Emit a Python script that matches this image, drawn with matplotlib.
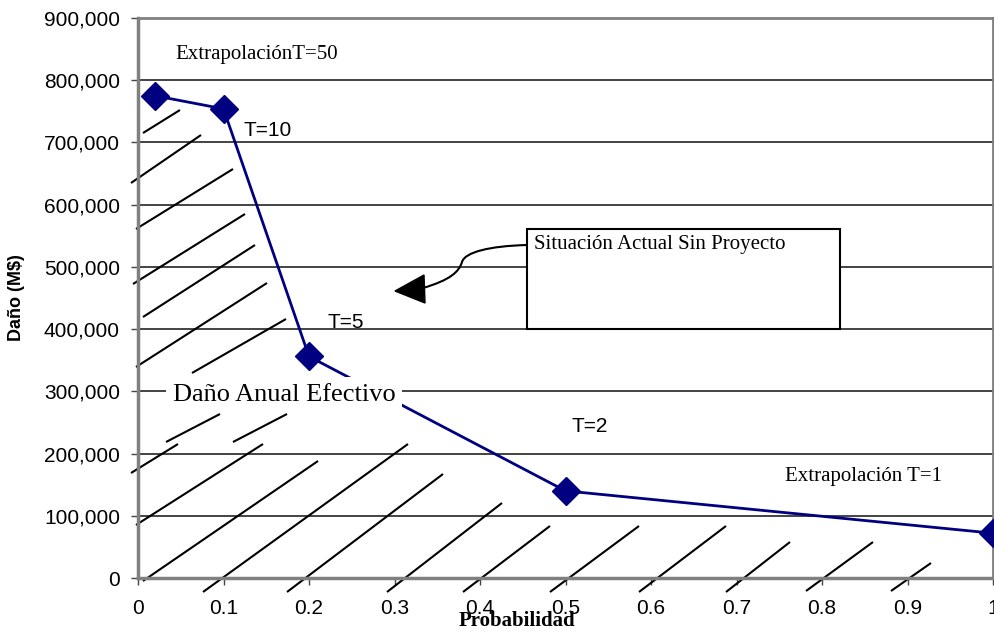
import matplotlib.pyplot as plt
from matplotlib.collections import LineCollection
from matplotlib.patches import Rectangle, PathPatch, Polygon
from matplotlib.path import Path

# Datos de la curva daño - probabilidad
probabilidad = [0.02, 0.1, 0.2, 0.5, 1.0]
dano = [775000, 754000, 356000, 140000, 72000]

x_ticks = [0, 0.1, 0.2, 0.3, 0.4, 0.5, 0.6, 0.7, 0.8, 0.9, 1.0]
x_labels = ["0", "0.1", "0.2", "0.3", "0.4", "0.5", "0.6", "0.7", "0.8", "0.9", "1"]
y_ticks = [0, 100000, 200000, 300000, 400000, 500000, 600000, 700000, 800000, 900000]

SANS = "Liberation Sans"
SERIF = "Liberation Serif"

W, H = 994, 633
L, R, T, B = 138, 993, 18, 578  # plot area in pixels


def px(x, y):
    # pixel position of the picture -> data units
    return (x - L) / (R - L), (B - y) / (B - T) * 900000


fig = plt.figure(figsize=(W / 100, H / 100), dpi=100)
ax = fig.add_axes([L / W, 1 - B / H, (R - L) / W, (B - T) / H])

ax.set_xlim(0, 1)
ax.set_ylim(0, 900000)
ax.set_xticks(x_ticks)
ax.set_xticklabels(x_labels, fontfamily=SANS, fontsize=15)
ax.set_yticks(y_ticks)
ax.set_yticklabels([f"{v:,}" for v in y_ticks], fontfamily=SANS, fontsize=15)
ax.tick_params(axis="y", length=5, width=1, pad=8, color="#444444")
ax.tick_params(axis="x", length=5, width=1, pad=10, color="#444444")

# gridlines
for v in y_ticks[1:-1]:
    ax.axhline(v, color="#111111", lw=1.1, zorder=1)
for side in ["left", "bottom"]:
    ax.spines[side].set_color("#808080")
    ax.spines[side].set_linewidth(2.5)
ax.spines["top"].set_color("#808080")
ax.spines["top"].set_linewidth(2)
ax.spines["right"].set_color("#808080")
ax.spines["right"].set_linewidth(2)

# hand drawn hatch (pixel coordinates of the picture)
hatch_px = [
    ((143, 133), (180, 110)), ((131, 183), (201, 135)), ((136, 229), (233, 169)),
    ((133, 284), (245, 214)), ((143, 317), (255, 245)), ((136, 367), (267, 283)),
    ((192, 373), (286, 319)), ((166, 442), (220, 414)), ((233, 442), (287, 414)),
    ((131, 473), (178, 444)), ((136, 525), (263, 444)), ((143, 581), (318, 461)),
    ((203, 592), (408, 444)), ((287, 592), (443, 474)), ((387, 592), (502, 503)),
    ((463, 592), (550, 526)), ((550, 592), (639, 526)), ((639, 592), (726, 526)),
    ((726, 592), (790, 542)), ((806, 591), (873, 542)), ((891, 591), (931, 563)),
]
segs = [[px(*a), px(*b)] for a, b in hatch_px]
ax.add_collection(LineCollection(segs, colors="black", linewidths=1.5,
                                 clip_on=False, zorder=2))

# curve
ax.plot(probabilidad, dano, color="#000080", lw=2, marker="D", ms=14,
        mfc="#000080", mec="#000080", clip_on=False, zorder=4)

# labels of the points
ax.text(*px(175, 55), "ExtrapolaciónT=50", fontfamily=SERIF, fontsize=15,
        ha="left", va="center")
ax.text(*px(244, 131), "T=10", fontfamily=SANS, fontsize=15, ha="left", va="center")
ax.text(*px(327, 323), "T=5", fontfamily=SANS, fontsize=15, ha="left", va="center")
ax.text(*px(572, 426), "T=2", fontfamily=SANS, fontsize=15, ha="left", va="center")
ax.text(*px(785, 476), "Extrapolación T=1", fontfamily=SERIF, fontsize=15,
        ha="left", va="center")

ax.text(*px(284, 395), "Daño Anual Efectivo", fontfamily=SERIF, fontsize=19,
        ha="center", va="center", zorder=5,
        bbox=dict(boxstyle="square,pad=0.25", fc="white", ec="none"))

# callout box
x0, y0 = px(527, 329)
x1, y1 = px(840, 229)
ax.add_patch(Rectangle((x0, y0), x1 - x0, y1 - y0, fc="white", ec="black",
                       lw=1.5, zorder=5))
ax.text(*px(534, 244), "Situación Actual Sin Proyecto", fontfamily=SERIF,
        fontsize=15, ha="left", va="center", zorder=6)

curve = Path([px(527, 245), px(490, 246), px(465, 252), px(462, 262),
              px(459, 272), px(450, 280), px(423, 288)],
             [Path.MOVETO, Path.CURVE4, Path.CURVE4, Path.CURVE4,
              Path.CURVE4, Path.CURVE4, Path.CURVE4])
ax.add_patch(PathPatch(curve, fc="none", ec="black", lw=1.5, zorder=5))
ax.add_patch(Polygon([px(395, 291), px(424, 275), px(425, 303)], closed=True,
                     fc="black", ec="black", zorder=5))

ax.set_ylabel("Daño (M$)", fontfamily=SANS, fontweight="bold", fontsize=13)
ax.yaxis.set_label_coords(-(L - 25) / (R - L), 0.5)
fig.text(517 / W, 1 - 621 / H, "Probabilidad", fontfamily=SERIF,
         fontweight="bold", fontsize=15, ha="center", va="center")

fig.savefig("out.png", dpi=100)
